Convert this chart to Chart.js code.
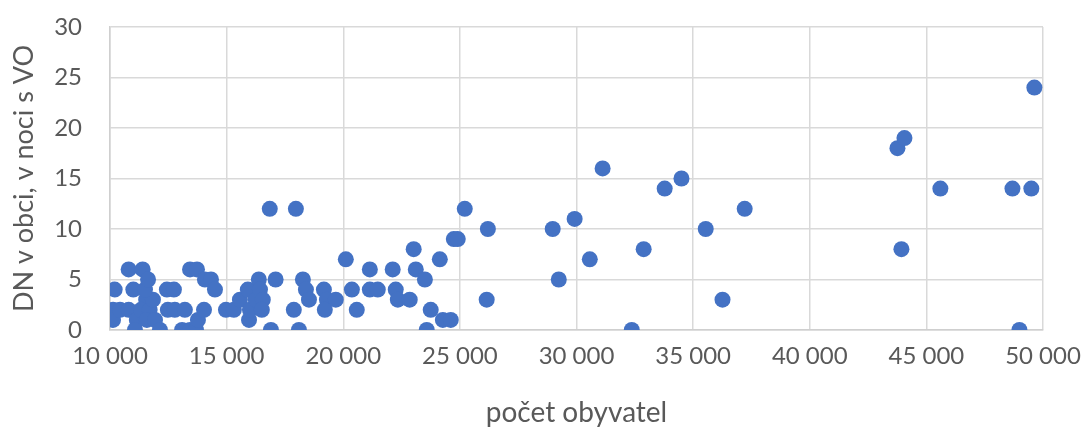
<!DOCTYPE html>
<html lang="cs">
<head>
<meta charset="utf-8">
<title>DN v obci podle počtu obyvatel</title>
<script src="https://cdn.jsdelivr.net/npm/chart.js@4.4.1/dist/chart.umd.min.js"></script>
<style>
  html, body { margin: 0; padding: 0; background: #ffffff; }
  #wrap { width: 1086px; height: 432px; }
</style>
</head>
<body>
<div id="wrap"><canvas id="chart" width="1086" height="432"></canvas></div>
<script>
// Počet obyvatel obce
const population = [
  10200, 10130, 10130, 10430, 10800, 11400, 11000, 11550, 10800, 11150,
  11070, 11330, 11700, 11580, 11840, 11500, 11930, 12140, 11630, 12440,
  12740, 12480, 12780, 13090, 13430, 13690, 13430, 13730, 13210, 13770,
  14030, 14070, 14330, 14500, 14970, 15310, 15570, 15910, 15960, 16000,
  16250, 16380, 16430, 16550, 16510, 16850, 16900, 17100, 17970, 17880,
  18100, 18270, 18400, 18530, 19170, 19300, 19210, 19680, 20110, 20370,
  20580, 21140, 21140, 21480, 22120, 22250, 22340, 22850, 23020, 23110,
  23500, 23580, 23750, 24140, 24270, 24610, 24740, 24910, 25210, 26200,
  26150, 28980, 29240, 29920, 30570, 31120, 32370, 32880, 33780, 34500,
  35540, 36260, 37210, 43760, 44060, 43930, 45600, 48690, 48990, 49500,
  49630
];

// DN v obci, v noci s VO
const accidents = [
  4, 2, 1, 2, 6, 6, 4, 3, 2, 1,
  0, 2, 2, 1, 3, 4, 1, 0, 5, 4,
  4, 2, 2, 0, 0, 0, 6, 6, 2, 1,
  2, 5, 5, 4, 2, 2, 3, 4, 1, 2,
  3, 5, 4, 3, 2, 12, 0, 5, 12, 2,
  0, 5, 4, 3, 4, 3, 2, 3, 7, 4,
  2, 4, 6, 4, 6, 4, 3, 3, 8, 6,
  5, 0, 2, 7, 1, 1, 9, 9, 12, 10,
  3, 10, 5, 11, 7, 16, 0, 8, 14, 15,
  10, 3, 12, 18, 19, 8, 14, 14, 0, 14,
  24
];

const xTicks = [10000, 15000, 20000, 25000, 30000, 35000, 40000, 45000, 50000];
const yTicks = [0, 5, 10, 15, 20, 25, 30];

const xTitle = 'počet obyvatel';
const yTitle = 'DN v obci, v noci s VO';

const points = population.map((x, i) => ({ x: x, y: accidents[i] }));

const tickColor = '#595959';
const gridColor = '#d9d9d9';

function spaced(v) {
  return String(v).replace(/\B(?=(\d{3})+(?!\d))/g, ' ');
}

new Chart(document.getElementById('chart'), {
  type: 'scatter',
  data: {
    datasets: [{
      data: points,
      backgroundColor: '#4472c4',
      borderWidth: 0,
      pointRadius: 8,
      pointHoverRadius: 8
    }]
  },
  options: {
    responsive: false,
    animation: false,
    events: [],
    layout: { autoPadding: false, padding: { left: 0, right: 43, top: 27, bottom: 0 } },
    plugins: {
      legend: { display: false },
      tooltip: { enabled: false }
    },
    scales: {
      x: {
        type: 'linear',
        min: xTicks[0],
        max: xTicks[xTicks.length - 1],
        afterBuildTicks: (s) => { s.ticks = xTicks.map(v => ({ value: v })); },
        afterFit: (s) => {
          s.height = 102;
          s.paddingLeft = 0;
          s.paddingRight = 0;
        },
        grid: { color: gridColor, lineWidth: 1.5, drawTicks: false },
        border: { color: '#cfcfcf', width: 1.5 },
        ticks: {
          padding: 12,
          color: tickColor,
          font: { family: 'Lato', size: 24 },
          maxRotation: 0,
          autoSkip: false,
          callback: (v) => spaced(v)
        },
        title: {
          display: true,
          text: xTitle,
          color: tickColor,
          font: { family: 'Lato', size: 28 },
          padding: { top: 0, bottom: 2 }
        }
      },
      y: {
        type: 'linear',
        min: yTicks[0],
        max: yTicks[yTicks.length - 1],
        afterBuildTicks: (s) => { s.ticks = yTicks.map(v => ({ value: v })); },
        afterFit: (s) => {
          s.width = 110;
          s.paddingTop = 0;
          s.paddingBottom = 0;
        },
        grid: { color: gridColor, lineWidth: 1.5, drawTicks: false },
        border: { color: '#cfcfcf', width: 1.5 },
        ticks: {
          padding: 28,
          color: tickColor,
          font: { family: 'Lato', size: 24 },
          autoSkip: false
        },
        title: {
          display: true,
          text: yTitle,
          color: tickColor,
          font: { family: 'Lato', size: 27 },
          padding: { top: 8, bottom: 0 }
        }
      }
    }
  }
});
</script>
</body>
</html>
